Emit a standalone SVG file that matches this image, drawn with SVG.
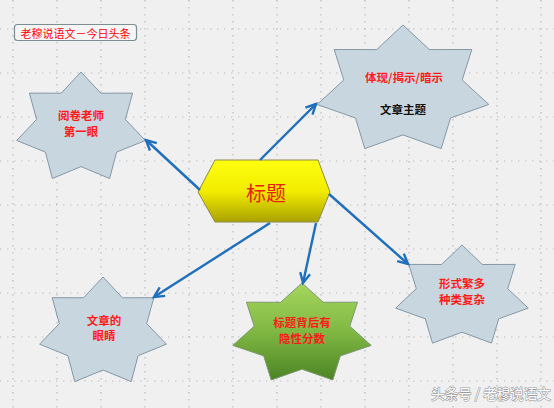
<svg xmlns="http://www.w3.org/2000/svg" width="554" height="408" viewBox="0 0 554 408">
<style>
.grid{stroke:#bcbcbc;stroke-width:1.2;stroke-dasharray:1.4 5.6;fill:none}
.star{fill:#c8d7df;stroke:#8597a6;stroke-width:1}
.lbl{font-family:"Noto Sans CJK SC","Noto Sans",sans-serif;font-weight:bold;font-size:11.5px;fill:#ff1a1a;text-anchor:middle;dominant-baseline:central}
.blk{fill:#111}
.conn{stroke:#1f6fbd;stroke-width:2.4;fill:none;marker-end:url(#arr)}
</style>
<defs>
<linearGradient id="gGreen" x1="0" y1="0" x2="0" y2="1">
<stop offset="0" stop-color="#a6d65e"/>
<stop offset="0.5" stop-color="#80b844"/>
<stop offset="1" stop-color="#4c8424"/>
</linearGradient>
<linearGradient id="gYel" x1="0" y1="0" x2="0" y2="1">
<stop offset="0" stop-color="#ffff10"/>
<stop offset="0.5" stop-color="#f2ec00"/>
<stop offset="1" stop-color="#aaa200"/>
</linearGradient>
<marker id="arr" markerUnits="userSpaceOnUse" markerWidth="14" markerHeight="14" refX="11" refY="6" orient="auto" viewBox="0 0 14 12">
<path d="M1,1 L11,6 L1,11" fill="none" stroke="#1f6fbd" stroke-width="2.4" stroke-linejoin="miter"/>
</marker>
</defs>
<rect width="554" height="408" fill="#f0f0f0"/>
<g id="grid">
<path class="grid" d="M13,0V408M57,0V408M101,0V408M145,0V408M189,0V408M233,0V408M277,0V408M321,0V408M365,0V408M409,0V408M453,0V408M497,0V408M541,0V408"/>
<path class="grid" d="M0,29H554M0,73H554M0,117H554M0,161H554M0,205H554M0,249H554M0,293H554M0,337H554M0,381H554"/>
</g>
<g id="title-label">
<rect x="14.5" y="24.5" width="122" height="16" rx="3" fill="#f6f6f6" stroke="#7e8d94" stroke-width="1.2"/>
<text x="75.5" y="32.5" font-family="'Noto Sans CJK SC',sans-serif" font-size="11" fill="#ff0000" text-anchor="middle" dominant-baseline="central">老穆说语文－今日头条</text>
</g>
<g id="node-yuejuan">
<polygon class="star" points="81,72 100.8,93.2 132.6,93.1 125.4,119.4 145.3,140.5 116.6,152.1 109.6,178.5 81,166.6 52.4,178.5 45.4,152.1 16.7,140.5 36.6,119.4 29.4,93.1 61.2,93.2"/>
<text class="lbl" x="81" y="115">阅卷老师</text>
<text class="lbl" x="81" y="131">第一眼</text>
</g>
<g id="node-zhuti">
<polygon class="star" points="403,25 429.4,49.6 471.8,49.5 462.2,80 488.8,104.5 450.5,118 441.2,148.6 403,134.9 364.8,148.6 355.5,118 317.2,104.5 343.8,80 334.2,49.5 376.7,49.6"/>
<text class="lbl" x="404" y="77">体现/揭示/暗示</text>
<text class="lbl blk" x="403" y="109">文章主题</text>
</g>
<g id="node-yanjing">
<polygon class="star" points="103,277 122.5,297.8 153.8,297.7 146.7,323.6 166.4,344.2 138.1,355.7 131.2,381.6 103,370 74.8,381.6 67.9,355.7 39.6,344.2 59.3,323.6 52.2,297.7 83.5,297.8"/>
<text class="lbl" x="104" y="320">文章的</text>
<text class="lbl" x="104" y="335">眼睛</text>
</g>
<g id="node-fenshu">
<polygon points="302,283 323.3,302.3 357.5,302.2 349.8,326.2 371.2,345.4 340.3,355.9 332.8,380 302,369.2 271.2,380 263.7,355.9 232.8,345.4 254.2,326.2 246.5,302.2 280.7,302.3" fill="url(#gGreen)" stroke="#7d9870" stroke-width="1"/>
<text class="lbl" x="302" y="322">标题背后有</text>
<text class="lbl" x="302" y="338">隐性分数</text>
</g>
<g id="node-xingshi">
<polygon class="star" points="462,245 482.4,264.5 515.2,264.4 507.7,288.7 528.3,308.1 498.7,318.8 491.5,343.1 462,332.2 432.5,343.1 425.3,318.8 395.7,308.1 416.3,288.7 408.8,264.4 441.6,264.5"/>
<text class="lbl" x="462" y="283">形式繁多</text>
<text class="lbl" x="462" y="299">种类复杂</text>
</g>
<g id="node-biaoti">
<polygon points="198,192 215,160 318,160 330,192 318,222 215,222" fill="url(#gYel)" stroke="#8e8a4a" stroke-width="1"/>
<text x="266" y="192" font-family="'Noto Sans CJK SC',sans-serif" font-size="20" fill="#e8200c" text-anchor="middle" dominant-baseline="central">标题</text>
</g>
<g id="connectors">
<line class="conn" x1="200" y1="190" x2="146" y2="140"/>
<line class="conn" x1="260" y1="160" x2="316" y2="104"/>
<line class="conn" x1="270" y1="223" x2="154" y2="297"/>
<line class="conn" x1="316" y1="223" x2="303" y2="283"/>
<line class="conn" x1="329" y1="194" x2="408" y2="264"/>
</g>
<g id="watermark">
<text x="491" y="393" font-family="'Noto Sans CJK SC',sans-serif" font-size="13.5" fill="#ffffff" stroke="#9a9a9a" stroke-width="1.2" paint-order="stroke" text-anchor="middle" dominant-baseline="central">头条号 / 老穆说语文</text>
</g>
</svg>
